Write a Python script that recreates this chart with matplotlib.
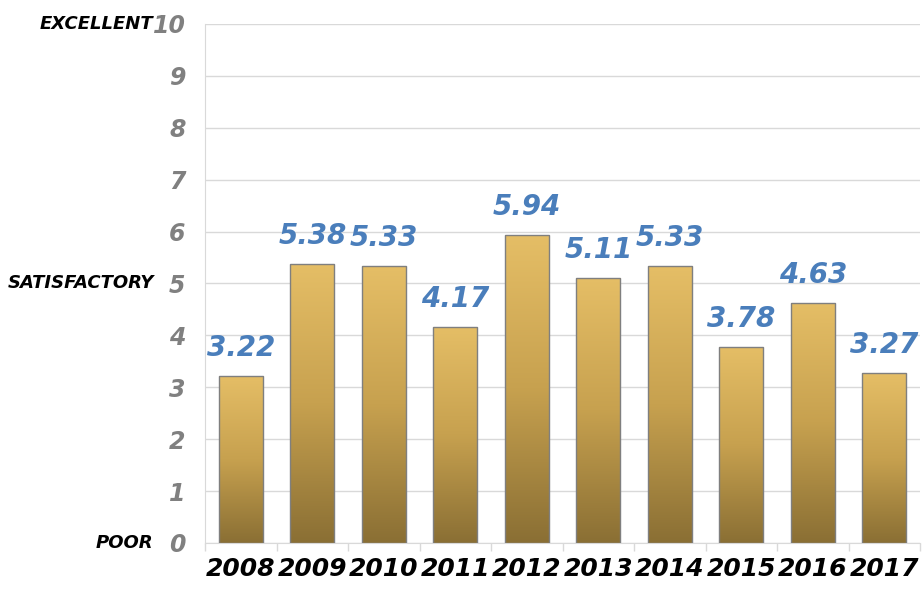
import matplotlib
matplotlib.use("Agg")
from matplotlib import pyplot as plt
from matplotlib.colors import LinearSegmentedColormap
import numpy as np

years = ["2008", "2009", "2010", "2011", "2012", "2013", "2014", "2015", "2016", "2017"]
scores = [3.22, 5.38, 5.33, 4.17, 5.94, 5.11, 5.33, 3.78, 4.63, 3.27]
rating_labels = {10: "EXCELLENT", 5: "SATISFACTORY", 0: "POOR"}

fig = plt.figure(figsize=(9.24, 5.92), dpi=100)
ax = fig.add_axes([0.2219, 0.0828, 0.7738, 0.8767])

x = np.arange(len(years))
bars = ax.bar(x, scores, width=0.62, color="none", edgecolor="#7f7f7f", linewidth=1.0, zorder=3)

# vertical gold gradient, light on top, dark at the bottom of each bar
cmap = LinearSegmentedColormap.from_list("gold", ["#8a6f34", "#c7a14f", "#e5be66"])
grad = np.linspace(0, 1, 256).reshape(-1, 1)
for b in bars:
    x0, w, h = b.get_x(), b.get_width(), b.get_height()
    im = ax.imshow(grad, cmap=cmap, origin="lower", aspect="auto",
                   extent=[x0, x0 + w, 0, h], zorder=2)
    im.set_clip_path(b)

for xi, v in zip(x, scores):
    ax.annotate(f"{v:.2f}", (xi, v), xytext=(0, 10), textcoords="offset points",
                ha="center", va="bottom", color="#4a7ebb", fontsize=20,
                fontweight="bold", style="italic")

ax.set_xlim(-0.5, len(years) - 0.5)
ax.set_ylim(0, 10)
ax.set_yticks(range(11))
ax.set_yticklabels([str(i) for i in range(11)], color="#808080", fontsize=17,
                   fontweight="bold", style="italic")
ax.set_xticks(x)
ax.set_xticklabels(years, fontsize=18, fontweight="bold", style="italic", color="black")
ax.set_xticks(np.arange(-0.5, len(years)), minor=True)
ax.tick_params(axis="x", which="major", length=0, pad=10)
ax.tick_params(axis="x", which="minor", length=6, color="#d9d9d9", width=1)
ax.tick_params(axis="y", length=0, pad=14)

ax.grid(axis="y", color="#d9d9d9", linewidth=1, zorder=0)
ax.set_axisbelow(True)
for s in ["top", "right"]:
    ax.spines[s].set_visible(False)
ax.spines["left"].set_color("#d9d9d9")
ax.spines["bottom"].set_color("#d9d9d9")

for yv, txt in rating_labels.items():
    ax.annotate(txt, (0, yv), xycoords=ax.get_yaxis_transform(),
                xytext=(-37, 0), textcoords="offset points",
                ha="right", va="center", fontsize=13, fontweight="bold",
                style="italic", color="black", annotation_clip=False)

fig.savefig("out.png", dpi=100)
